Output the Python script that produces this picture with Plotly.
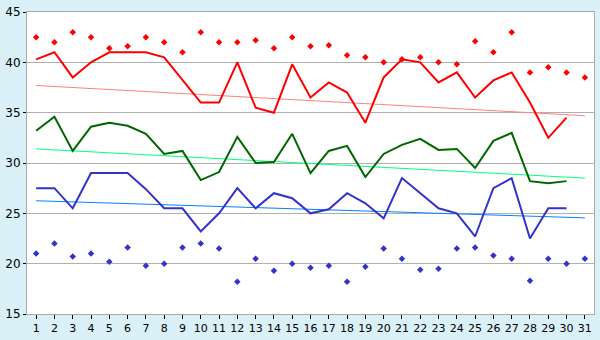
import plotly.graph_objects as go

days = list(range(1, 31))
days_all = list(range(1, 32))

red_line = [40.3, 41.0, 38.5, 40.0, 41.0, 41.0, 41.0, 40.5, 38.2, 36.0,
            36.0, 40.0, 35.5, 35.0, 39.8, 36.5, 38.0, 37.0, 34.0, 38.5,
            40.3, 40.0, 38.0, 39.0, 36.5, 38.2, 39.0, 36.0, 32.5, 34.5]
green_line = [33.2, 34.6, 31.2, 33.6, 34.0, 33.7, 32.9, 30.9, 31.2, 28.3,
              29.1, 32.6, 30.0, 30.1, 32.9, 29.0, 31.2, 31.7, 28.6, 30.9,
              31.8, 32.4, 31.3, 31.4, 29.5, 32.2, 33.0, 28.2, 28.0, 28.2]
blue_line = [27.5, 27.5, 25.5, 29.0, 29.0, 29.0, 27.4, 25.5, 25.5, 23.2,
             25.0, 27.5, 25.5, 27.0, 26.5, 25.0, 25.4, 27.0, 26.0, 24.5,
             28.5, 27.0, 25.5, 25.0, 22.7, 27.5, 28.5, 22.5, 25.5, 25.5]
red_marks = [42.5, 42.0, 43.0, 42.5, 41.4, 41.6, 42.5, 42.0, 41.0, 43.0,
             42.0, 42.0, 42.2, 41.4, 42.5, 41.6, 41.7, 40.7, 40.5, 40.0,
             40.3, 40.5, 40.0, 39.8, 42.1, 41.0, 43.0, 39.0, 39.5, 39.0, 38.5]
blue_marks = [21.0, 22.0, 20.7, 21.0, 20.2, 21.6, 19.8, 20.0, 21.6, 22.0,
              21.5, 18.2, 20.5, 19.3, 20.0, 19.6, 19.8, 18.2, 19.7, 21.5,
              20.5, 19.4, 19.5, 21.5, 21.6, 20.8, 20.5, 18.3, 20.5, 20.0, 20.5]
trend_x = [1, 31]
red_trend = [37.7, 34.7]
green_trend = [31.4, 28.5]
blue_trend = [26.25, 24.55]

fig = go.Figure()
fig.add_trace(go.Scatter(x=trend_x, y=red_trend, mode="lines",
                         line=dict(color="#ff8080", width=1)))
fig.add_trace(go.Scatter(x=trend_x, y=green_trend, mode="lines",
                         line=dict(color="#00ff80", width=1)))
fig.add_trace(go.Scatter(x=trend_x, y=blue_trend, mode="lines",
                         line=dict(color="#0080ff", width=1)))
fig.add_trace(go.Scatter(x=days, y=red_line, mode="lines",
                         line=dict(color="#ff0000", width=2)))
fig.add_trace(go.Scatter(x=days, y=green_line, mode="lines",
                         line=dict(color="#006600", width=2)))
fig.add_trace(go.Scatter(x=days, y=blue_line, mode="lines",
                         line=dict(color="#3333cc", width=2)))
fig.add_trace(go.Scatter(x=days_all, y=red_marks, mode="markers",
                         marker=dict(color="#ff0000", size=5, symbol="diamond")))
fig.add_trace(go.Scatter(x=days_all, y=blue_marks, mode="markers",
                         marker=dict(color="#3333cc", size=5, symbol="diamond")))

fig.update_layout(
    width=600, height=340,
    margin=dict(l=20, r=5, t=5, b=20),
    paper_bgcolor="#daf0f7",
    plot_bgcolor="#ffffff",
    showlegend=False,
    font=dict(family="DejaVu Sans", size=12, color="#000000"),
)
fig.update_xaxes(range=[0.5, 31.5], tickmode="array", tickvals=days_all,
                 ticktext=[str(d) for d in days_all],
                 showgrid=False, zeroline=False, showline=True,
                 linecolor="#aaaaaa", linewidth=1, mirror=True,
                 ticks="outside", ticklen=4, tickcolor="#000000",
                 tickfont=dict(size=11))
fig.update_yaxes(range=[15, 45], tickvals=[15, 20, 25, 30, 35, 40, 45],
                 showgrid=True, gridcolor="#b0b0b0", gridwidth=1,
                 zeroline=False, showline=True,
                 linecolor="#aaaaaa", linewidth=1, mirror=True,
                 ticks="outside", ticklen=3, tickcolor="#000000",
                 ticklabeloverflow="allow", ticklabelstandoff=0)

fig.write_html("out.html")
